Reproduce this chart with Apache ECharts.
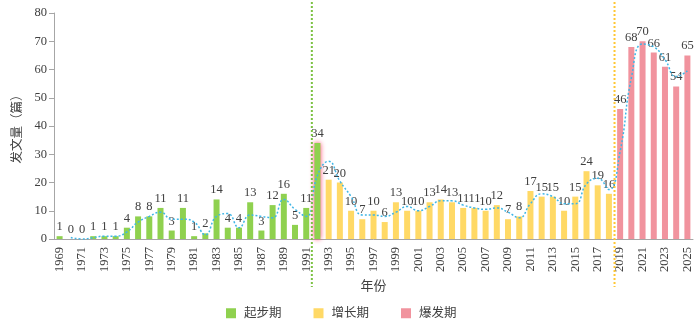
<!DOCTYPE html>
<html>
<head>
<meta charset="utf-8">
<script src="https://cdn.jsdelivr.net/npm/echarts@6/dist/echarts.min.js"></script>
<style>
  html, body { margin: 0; padding: 0; background: #fff; }
  #chart { width: 700px; height: 323px; }
</style>
</head>
<body>
<div id="chart"></div>
<script>
// 年份
const years = [
  '1969','1970','1971','1972','1973','1974','1975','1976','1977','1978',
  '1979','1980','1981','1982','1983','1984','1985','1986','1987','1988',
  '1989','1990','1991','1992','1993','1994','1995','1996','1997','1998',
  '1999','2000','2001','2002','2003','2004','2005','2006','2007','2008',
  '2009','2010','2011','2012','2013','2014','2015','2016','2017','2018',
  '2019','2020','2021','2022','2023','2024','2025'
];
// 起步期 1969-1992
const startVals = [1, 0, 0, 1, 1, 1, 4, 8, 8, 11, 3, 11, 1, 2, 14, 4, 4, 13, 3, 12, 16, 5, 11, 34];
// 增长期 1993-2018
const growthVals = [21, 20, 10, 7, 10, 6, 13, 10, 10, 13, 14, 13, 11, 11, 10, 12, 7, 8, 17, 15, 15, 10, 15, 24, 19, 16];
// 爆发期 2019-2025
const burstVals = [46, 68, 70, 66, 61, 54, 65];
// 趋势线（虚线），1969 无值
const trendVals = ['-', 0.5, 0, 0.5, 1, 1, 2.5, 6, 8, 9.5, 7, 7, 6, 1.5, 8, 9, 4, 8.5, 8, 7.5,
  14, 10.5, 8, 22.5, 27.5, 20.5, 15, 8.5, 8.5, 8, 9.5, 11.5, 10, 11.5, 13.5, 13.5, 12, 11, 10.5, 11,
  9.5, 7.5, 12.5, 16, 15, 12.5, 12.5, 19.5, 21.5, 17.5, 31, 57, 69, 68, 63.5, 57.5, 59.5];
const phaseNames = ['起步期', '增长期', '爆发期'];
const highlightYear = '1992';
// 分期分界（在该年份左侧画竖虚线）
const splitYears = ['1992', '2019'];

const serif = 'Liberation Serif, Noto Sans CJK SC, serif';
const textColor = '#404040';

// 把某一期的数据放到整条年份轴上
function place(vals, firstYear) {
  const arr = years.map(() => '-');
  const off = years.indexOf(firstYear);
  vals.forEach((v, i) => { arr[off + i] = v; });
  return arr;
}

const startData = place(startVals, '1969').map((v, i) => {
  if (years[i] !== highlightYear) return v;
  // 1992 高亮发光
  return {
    value: v,
    itemStyle: {
      shadowColor: 'rgba(255,60,100,1)',
      shadowBlur: 5
    }
  };
});

const barLabel = {
  show: true,
  position: 'top',
  distance: 3,
  color: textColor,
  fontSize: 12.5,
  fontFamily: serif
};

function barSeries(name, data, color) {
  return {
    name: name,
    type: 'bar',
    data: data,
    barWidth: 6,
    barGap: '-100%',
    itemStyle: { color: color },
    label: barLabel,
    z: 2
  };
}

const myChart = echarts.init(document.getElementById('chart'));

myChart.setOption({
  animation: false,
  textStyle: { fontFamily: serif },
  grid: { left: 54, right: 7, top: 13, bottom: 84 },
  legend: {
    data: phaseNames,
    left: 221,
    top: 302,
    icon: 'rect',
    itemWidth: 10,
    itemHeight: 10,
    itemGap: 32,
    textStyle: { color: textColor, fontSize: 12.5, fontFamily: serif, padding: [0, 0, 0, 3] }
  },
  xAxis: {
    type: 'category',
    data: years,
    name: '年份',
    nameLocation: 'middle',
    nameGap: 41,
    nameTextStyle: { color: textColor, fontSize: 13, fontFamily: serif },
    axisLine: { lineStyle: { color: '#A6A6A6' } },
    axisTick: { show: false },
    axisLabel: {
      interval: 1,
      rotate: 90,
      margin: 8,
      color: textColor,
      fontSize: 12.5,
      fontFamily: serif
    }
  },
  yAxis: {
    type: 'value',
    min: 0,
    max: 80,
    interval: 10,
    name: '发文量（篇）',
    nameLocation: 'middle',
    nameGap: 27,
    nameTextStyle: { color: textColor, fontSize: 12.5, fontFamily: serif },
    axisLine: { show: true, lineStyle: { color: '#A6A6A6' } },
    axisTick: { show: true, length: 5, lineStyle: { color: '#A6A6A6' } },
    splitLine: { show: false },
    axisLabel: { margin: 7, color: textColor, fontSize: 12.5, fontFamily: serif }
  },
  series: [
    barSeries(phaseNames[0], startData, '#8FD14F'),
    barSeries(phaseNames[1], place(growthVals, '1993'), '#FFD966'),
    barSeries(phaseNames[2], place(burstVals, '2019'), '#F1939E'),
    {
      name: '趋势',
      type: 'line',
      data: trendVals,
      smooth: true,
      symbol: 'none',
      lineStyle: { color: '#3FB6E6', width: 1.5, type: [2, 2] },
      z: 3
    }
  ]
});

// 分期竖虚线：画在分界年份的左边缘，贯穿到坐标轴下方
const band = myChart.convertToPixel({ xAxisIndex: 0 }, years[1]) - myChart.convertToPixel({ xAxisIndex: 0 }, years[0]);
const lineColors = ['#7CC242', '#FFC734'];
myChart.setOption({
  graphic: splitYears.map((y, i) => {
    const x = myChart.convertToPixel({ xAxisIndex: 0 }, y) - band / 2;
    return {
      type: 'line',
      shape: { x1: x, y1: 2, x2: x, y2: 287 },
      style: { stroke: lineColors[i], lineWidth: 2, lineDash: [2, 2] },
      z: 10
    };
  })
});

window.onresize = () => {
  myChart.resize();
};
</script>
</body>
</html>
